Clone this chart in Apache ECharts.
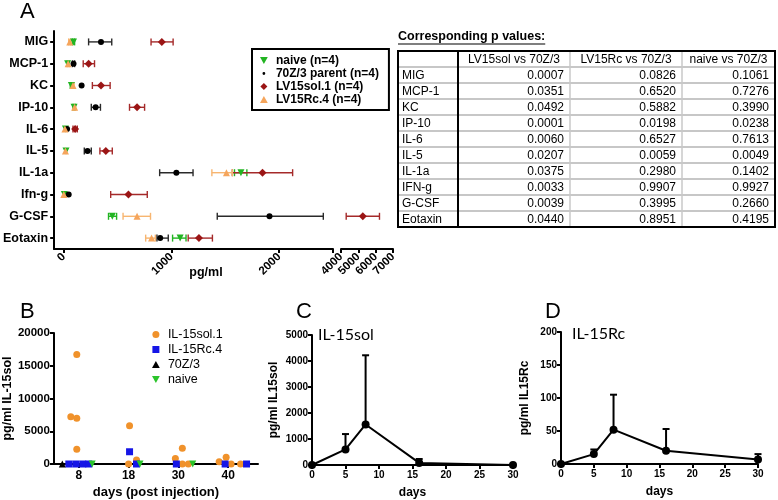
<!DOCTYPE html>
<html><head><meta charset="utf-8">
<script src="https://cdn.jsdelivr.net/npm/echarts@6/dist/echarts.min.js"></script>
<style>html,body{margin:0;padding:0;background:#fff}#c{width:778px;height:500px}</style>
</head><body><div id="c"></div>
<script>
// ---------- Panel A data ----------
const cytokines = ['MIG','MCP-1','KC','IP-10','IL-6','IL-5','IL-1a','Ifn-g','G-CSF','Eotaxin'];
const naiveMean = [90,35,70,95,15,20,1645,5,450,1080];
const naiveLow  = [80,30,60,85,10,15,1585,0,415,1010];
const naiveHigh = [100,40,80,105,20,25,1700,10,490,1135];
const parentMean = [345,90,165,295,30,220,1045,45,1910,895];
const parentLow  = [230,80,160,255,25,190,890,40,1425,865];
const parentHigh = [445,100,170,340,35,255,1200,50,2410,970];
const solMean = [910,230,345,680,105,390,1845,600,5260,1255];
const solLow  = [810,180,265,610,85,335,1565,435,4300,1155];
const solHigh = [1015,285,430,750,125,450,2125,775,6220,1380];
const rcMean = [55,40,85,100,10,15,1510,0,680,815];
const rcLow  = [45,30,75,90,5,10,1375,0,550,760];
const rcHigh = [65,50,95,110,15,20,1565,10,805,850];
const seg1Ticks = [0,1000,2000];

// ---------- Table data ----------
const tableHeader = ['', 'LV15sol vs 70Z/3', 'LV15Rc vs 70Z/3', 'naive vs 70Z/3'];
const tableRows = ['MIG','MCP-1','KC','IP-10','IL-6','IL-5','IL-1a','IFN-g','G-CSF','Eotaxin'];
const pSol   = ['0.0007','0.0351','0.0492','0.0001','0.0060','0.0207','0.0375','0.0033','0.0039','0.0440'];
const pRc    = ['0.0826','0.6520','0.5882','0.0198','0.6527','0.0059','0.2980','0.9907','0.3995','0.8951'];
const pNaive = ['0.1061','0.7276','0.3990','0.0238','0.7613','0.0049','0.1402','0.9927','0.2660','0.4195'];

// ---------- Panel B data (per day: values, jitter within column) ----------
const bDays = ['8','18','30','40'];
const bSolVals   = [[7200,16700,7000,2270],[5830,600,0],[840,2420,0,0],[350,1040,0,0]];
const bSolJit    = [[-0.16,-0.04,-0.04,-0.04],[0.02,0.16,0],[-0.06,0.08,0.08,0.2],[-0.18,-0.04,0.06,0.25]];
const bRcVals    = [[0,0,0,0],[1870,0],[0],[0,0]];
const bRcJit     = [[-0.2,-0.06,0.08,0.2],[0.02,0.16],[-0.04],[-0.06,0.37]];
const bParentVals= [[0],[],[],[]];
const bParentJit = [[-0.33],[],[],[]];
const bNaiveVals = [[0],[0],[0],[]];
const bNaiveJit  = [[0.27],[0.23],[0.29],[]];

// ---------- Panels C / D data ----------
const tDays = [0,5,8,16,30];
const cMean = [0,600,1560,80,0];
const cErrTop = [0,1190,4220,230,0];
const dMean = [0,15,52,20,7];
const dErrTop = [0,22,105,53,15];

const FONT = 'Liberation Sans';
const DOWN_TRI = 'path://M0,0L10,0L5,9Z';
const UP_TRI = 'path://M5,0L10,9L0,9Z';
const CIRCLE = 'path://M5,0A5,5 0 1,1 5,10A5,5 0 1,1 5,0Z';
const SMALL_DOT = 'path://M0,0M10,10M3,5A2,2 0 1,1 7,5A2,2 0 1,1 3,5Z';
const SQUARE = 'path://M0,0L10,0L10,10L0,10Z';
const DIAMOND = 'path://M5,0L10,5L5,10L0,5Z';
const chart = echarts.init(document.getElementById('c'));

function hErr(color, lw){ return function(params, api){
  const c = api.value(0), lo = api.value(1), hi = api.value(2);
  const a = api.coord([lo, c]), b = api.coord([hi, c]);
  const h = 3.5, st = {stroke: color, lineWidth: lw};
  return {type:'group', children:[
    {type:'line', shape:{x1:a[0],y1:a[1],x2:b[0],y2:b[1]}, style:st},
    {type:'line', shape:{x1:a[0],y1:a[1]-h,x2:a[0],y2:a[1]+h}, style:st},
    {type:'line', shape:{x1:b[0],y1:b[1]-h,x2:b[0],y2:b[1]+h}, style:st}]};
};}
function vErr(color, lw){ return function(params, api){
  const x = api.value(0), m = api.value(1), t = api.value(2);
  const a = api.coord([x, m]), b = api.coord([x, t]);
  const w = 3.5, st = {stroke: color, lineWidth: lw};
  return {type:'group', children:[
    {type:'line', shape:{x1:a[0],y1:a[1],x2:b[0],y2:b[1]}, style:st},
    {type:'line', shape:{x1:b[0]-w,y1:b[1],x2:b[0]+w,y2:b[1]}, style:st}]};
};}

const groupsA = [
  {name:'naive (n=4)', mean:naiveMean, lo:naiveLow, hi:naiveHigh, color:'#22b422', err:'#22b422', symbol:DOWN_TRI, size:7},
  {name:'70Z/3 parent (n=4)', mean:parentMean, lo:parentLow, hi:parentHigh, color:'#000', err:'#2a2a2a', symbol:'circle', size:6},
  {name:'LV15sol.1 (n=4)', mean:solMean, lo:solLow, hi:solHigh, color:'#9b1515', err:'#a52a2a', symbol:'diamond', size:8},
  {name:'LV15Rc.4 (n=4)', mean:rcMean, lo:rcLow, hi:rcHigh, color:'#f5a55c', err:'#f7b570', symbol:'triangle', size:7}
];
const SPLIT = 3000;
const series = [];
[0,1].forEach(seg => groupsA.forEach(g => {
  const data = [];
  g.mean.forEach((m,i) => { if ((seg===0) === (m < SPLIT)) data.push([m, i]); });
  series.push({type:'scatter', name:g.name, xAxisIndex:seg, yAxisIndex:seg, symbol:g.symbol, symbolSize:g.size,
    itemStyle:{color:g.color, opacity:1}, data, z:3});
}));
[0,1].forEach(seg => groupsA.forEach(g => {
  const data = [];
  g.mean.forEach((m,i) => { if ((seg===0) === (m < SPLIT) && g.hi[i] > g.lo[i] + 12) data.push([i, g.lo[i], g.hi[i]]); });
  series.push({type:'custom', name:g.name, xAxisIndex:seg, yAxisIndex:seg, renderItem:hErr(g.err, 1.4),
    itemStyle:{color:g.color}, encode:{x:[1,2], y:0}, data, z:2, silent:true});
}));

// Panel B
const groupsB = [
  {name:'IL-15sol.1', vals:bSolVals, jit:bSolJit, color:'#f0922b', symbol:'circle', size:7},
  {name:'IL-15Rc.4', vals:bRcVals, jit:bRcJit, color:'#1515e6', symbol:'rect', size:7},
  {name:'70Z/3', vals:bParentVals, jit:bParentJit, color:'#000', symbol:'triangle', size:7},
  {name:'naive', vals:bNaiveVals, jit:bNaiveJit, color:'#2bc42b', symbol:DOWN_TRI, size:7}
];
groupsB.forEach(g => {
  const data = [];
  g.vals.forEach((arr, d) => arr.forEach((v, k) => data.push([d + g.jit[d][k], v])));
  series.push({type:'scatter', name:g.name, xAxisIndex:2, yAxisIndex:2, symbol:g.symbol, symbolSize:g.size,
    itemStyle:{color:g.color, opacity:1}, data, z:3});
});

// Panels C, D
series.push({type:'custom', xAxisIndex:3, yAxisIndex:3, renderItem:vErr('#000',2), encode:{x:0,y:[1,2]},
  data: tDays.map((d,i)=>[d, cMean[i], cErrTop[i]]).filter(r=>r[2]>r[1]), silent:true});
series.push({type:'line', xAxisIndex:3, yAxisIndex:3, data: tDays.map((d,i)=>[d,cMean[i]]), symbol:'circle', symbolSize:8,
  itemStyle:{color:'#000'}, lineStyle:{color:'#000', width:2}, z:3});
series.push({type:'custom', xAxisIndex:4, yAxisIndex:4, renderItem:vErr('#000',2), encode:{x:0,y:[1,2]},
  data: tDays.map((d,i)=>[d, dMean[i], dErrTop[i]]).filter(r=>r[2]>r[1]), silent:true});
series.push({type:'line', xAxisIndex:4, yAxisIndex:4, data: tDays.map((d,i)=>[d,dMean[i]]), symbol:'circle', symbolSize:8,
  itemStyle:{color:'#000'}, lineStyle:{color:'#000', width:2}, z:3});

const axLine = {show:true, onZero:false, lineStyle:{color:'#000', width:2}};
const axTick = {show:true, length:4, lineStyle:{color:'#000', width:2}};
const plain = v => String(v);
const lab = (size, extra) => Object.assign({color:'#000', fontWeight:'bold', fontSize:size, fontFamily:FONT, formatter:plain}, extra||{});
const nameStyle = (size) => ({color:'#000', fontWeight:'bold', fontSize:size, fontFamily:FONT});

const xAxis = [
  {gridIndex:0, type:'value', min:-90, max:2500, axisLine:axLine,
   axisTick:Object.assign({}, axTick, {customValues:[0,1000,2000,2500]}),
   axisLabel:lab(11.5,{rotate:45, margin:6, customValues:seg1Ticks}), splitLine:{show:false}},
  {gridIndex:1, type:'value', min:4000, max:7000, interval:1000, axisLine:axLine, axisTick:axTick,
   axisLabel:lab(11.5,{rotate:45, margin:6, showMinLabel:true, showMaxLabel:true}), splitLine:{show:false}},
  {gridIndex:2, type:'value', min:-0.5, max:3.6, axisLine:axLine,
   axisTick:Object.assign({}, axTick, {customValues:[0,1,2,3]}),
   axisLabel:lab(12,{customValues:[0,1,2,3], formatter:v=>bDays[Math.round(v)], margin:6}), splitLine:{show:false},
   name:'days (post injection)', nameLocation:'middle', nameGap:22, nameTextStyle:nameStyle(13)},
  {gridIndex:3, type:'value', min:0, max:30, interval:5, axisLine:axLine, axisTick:axTick,
   axisLabel:lab(10,{margin:5}), splitLine:{show:false},
   name:'days', nameLocation:'middle', nameGap:22, nameTextStyle:nameStyle(12)},
  {gridIndex:4, type:'value', min:0, max:30, interval:5, axisLine:axLine, axisTick:axTick,
   axisLabel:lab(10,{margin:5}), splitLine:{show:false},
   name:'days', nameLocation:'middle', nameGap:22, nameTextStyle:nameStyle(12)}
];
const yAxis = [
  {gridIndex:0, type:'category', data:cytokines, inverse:true, axisLine:axLine,
   axisTick:Object.assign({}, axTick, {alignWithLabel:true}), axisLabel:{color:'#000', fontWeight:'bold', fontSize:12.5, fontFamily:FONT, margin:6}},
  {gridIndex:1, type:'category', data:cytokines, inverse:true, show:false},
  {gridIndex:2, type:'value', min:0, max:20000, interval:5000, axisLine:axLine, axisTick:axTick,
   axisLabel:lab(11.5,{margin:4}), splitLine:{show:false},
   name:'pg/ml IL-15sol', nameLocation:'middle', nameGap:36, nameTextStyle:nameStyle(12.5)},
  {gridIndex:3, type:'value', min:0, max:5000, interval:1000, axisLine:axLine, axisTick:axTick,
   axisLabel:lab(10,{margin:4}), splitLine:{show:false},
   name:'pg/ml IL15sol', nameLocation:'middle', nameGap:32, nameTextStyle:nameStyle(12)},
  {gridIndex:4, type:'value', min:0, max:200, interval:50, axisLine:axLine, axisTick:axTick,
   axisLabel:lab(10,{margin:4}), splitLine:{show:false},
   name:'pg/ml IL15Rc', nameLocation:'middle', nameGap:30, nameTextStyle:nameStyle(12)}
];

// ---------- table graphic ----------
const colX = [398, 458, 570, 682, 775];
const tTop = 51, rowH = 16;
const nRows = tableRows.length + 1;
const tBottom = tTop + nRows*rowH;
const g = [];
const tf = '12px "Liberation Sans"';
function txt(x, y, s, align, font){ return {type:'text', x, y, z:10, style:{text:s, font:font||tf, fill:'#000',
  align, verticalAlign:'middle', textAlign:align, textVerticalAlign:'middle'}}; }
function ln(x1,y1,x2,y2,color,w){ return {type:'line', z:9, shape:{x1,y1,x2,y2}, style:{stroke:color, lineWidth:w}}; }
for (let r = 1; r < nRows; r++) g.push(ln(colX[0], tTop + r*rowH, colX[4], tTop + r*rowH, '#b4b4b4', 1.5));
g.push(ln(colX[2], tTop, colX[2], tBottom, '#c8c8c8', 1.5));
g.push(ln(colX[3], tTop, colX[3], tBottom, '#c8c8c8', 1.5));
g.push(ln(colX[1], tTop, colX[1], tBottom, '#000', 2));
g.push({type:'rect', z:11, shape:{x:colX[0], y:tTop, width:colX[4]-colX[0], height:tBottom-tTop},
  style:{fill:null, stroke:'#000', lineWidth:2}});
for (let c = 1; c < 4; c++) g.push(txt((colX[c]+colX[c+1])/2, tTop + rowH/2 + 0.5, tableHeader[c], 'center'));
const pCols = [pSol, pRc, pNaive];
tableRows.forEach((name, i) => {
  const y = tTop + (i+1)*rowH + rowH/2 + 0.5;
  g.push(txt(colX[0]+4, y, name, 'left'));
  pCols.forEach((col, c) => g.push(txt(colX[c+2]-6, y, col[i], 'right')));
});
const titleText = 'Corresponding p values:';
const titleFont = 'bold 12.5px "Liberation Sans"';
const mctx = document.createElement('canvas').getContext('2d');
mctx.font = titleFont;
const tw = mctx.measureText(titleText).width;
g.push(txt(398, 37, titleText, 'left', titleFont));
g.push(ln(398, 44, 398 + tw, 44, '#000', 1.2));
const letterFont = '22px "Liberation Sans"';
[['A',20,12],['B',20,312],['C',296,312],['D',545,312]].forEach(l => g.push(txt(l[1], l[2], l[0], 'left', letterFont)));
g.push(txt(318, 335, 'IL-15sol', 'left', '16px Lato'));
g.push(txt(572, 334, 'IL-15Rc', 'left', '16px Lato'));
g.push(txt(206, 273, 'pg/ml', 'center', 'bold 12.5px "Liberation Sans"'));

const option = {
  animation:false,
  textStyle:{fontFamily:FONT},
  grid:[
    {left:48, top:31, width:285, height:218},
    {left:341, top:31, width:52, height:218},
    {left:48, top:333, width:210, height:135},
    {left:312, top:335, width:201, height:130},
    {left:561, top:332, width:197, height:132}
  ],
  xAxis, yAxis,
  legend:[
    {orient:'vertical', left:252, top:49, padding:[5,10,4,8], borderColor:'#000', borderWidth:2,
     itemWidth:14, itemHeight:7, itemGap:0,
     textStyle:{fontWeight:'bold', fontSize:12, color:'#000', fontFamily:FONT, lineHeight:13},
     data:[
       {name:'naive (n=4)', icon:DOWN_TRI, itemStyle:{color:'#22b422'}},
       {name:'70Z/3 parent (n=4)', icon:SMALL_DOT, itemStyle:{color:'#000'}},
       {name:'LV15sol.1 (n=4)', icon:DIAMOND, itemStyle:{color:'#9b1515'}},
       {name:'LV15Rc.4 (n=4)', icon:UP_TRI, itemStyle:{color:'#f5a55c'}}]},
    {orient:'vertical', left:152, top:327, padding:0, itemWidth:14, itemHeight:7, itemGap:0,
     textStyle:{fontSize:12.5, color:'#000', fontFamily:FONT, lineHeight:15},
     data:[
       {name:'IL-15sol.1', icon:CIRCLE},
       {name:'IL-15Rc.4', icon:SQUARE},
       {name:'70Z/3', icon:UP_TRI},
       {name:'naive', icon:DOWN_TRI}]}
  ],
  series,
  graphic:{elements:g}
};
chart.setOption(option);
</script></body></html>
